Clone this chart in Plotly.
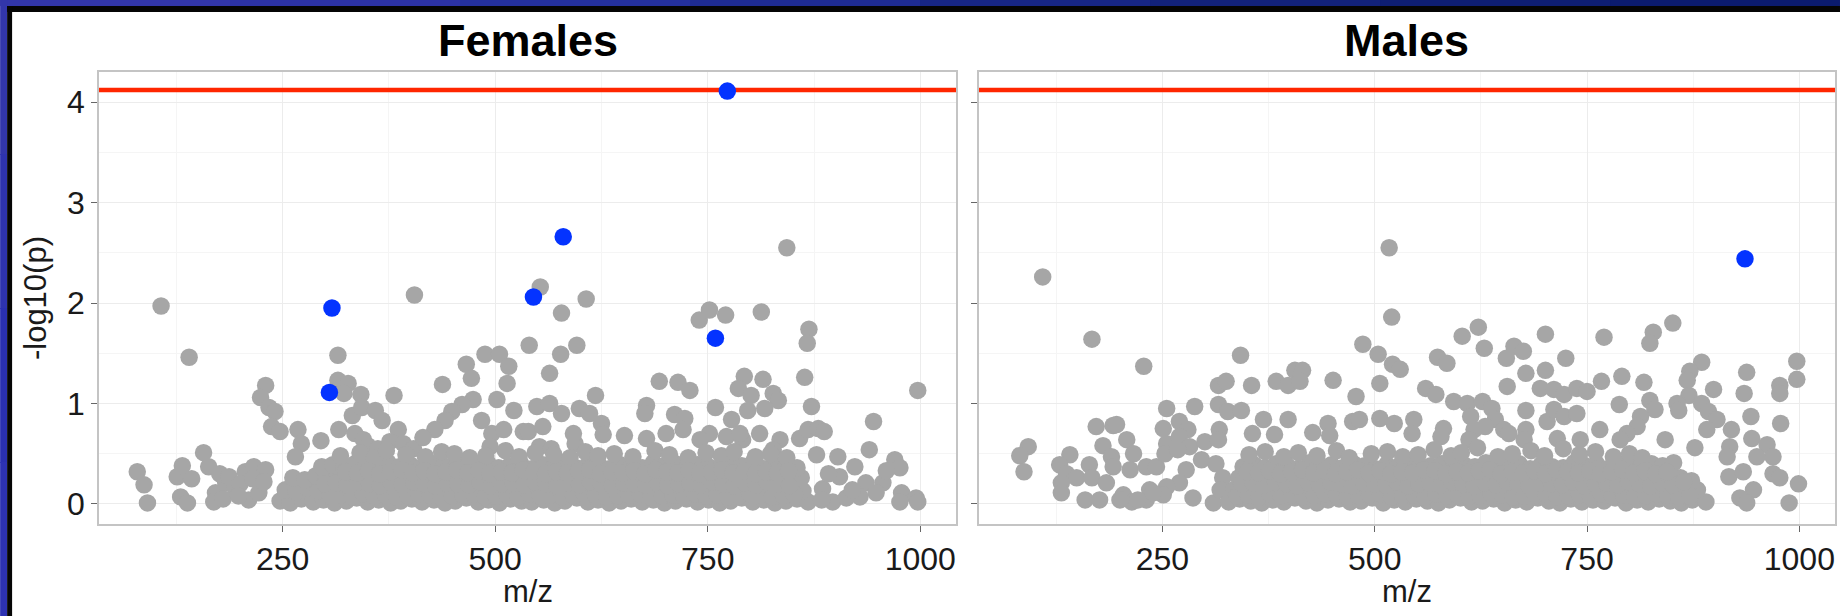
import plotly.graph_objects as go

# ---------------- data ----------------
threshold = 4.12
x_range = [34, 1042]
y_range = [-0.2, 4.3]
x_tick_vals = [250, 500, 750, 1000]
x_tick_text = ["250", "500", "750", "1000"]
x_minor_vals = [125, 375, 625, 875]
y_tick_vals = [0, 1, 2, 3, 4]
y_tick_text = ["0", "1", "2", "3", "4"]
y_minor_vals = [0.5, 1.5, 2.5, 3.5]
panel_titles = ["Females", "Males"]

# Females - scattered (non significant) features
females_sparse_mz = [79, 87, 91, 107, 126, 132, 143, 130, 138, 140,
                     157, 163, 171, 169, 183, 194, 206, 216, 230, 210,
                     222, 176, 187, 200, 215, 228, 180, 198, 230, 224,
                     234, 241, 237, 247, 268, 272, 295, 315, 315, 327,
                     322, 342, 381, 405, 438, 466, 472, 488, 505, 516,
                     514, 540, 502, 474, 461, 449, 441, 429, 484, 496,
                     510, 522, 533, 494, 316, 332, 343, 359, 367, 335,
                     345, 386, 265, 350, 362, 376, 392, 404, 415,
                     843, 553, 607, 578, 596, 577, 564, 740, 752, 771,
                     813, 869, 867, 864, 872, 693, 715, 729, 793, 815,
                     786, 801, 827, 833, 797, 817, 759, 778, 997, 945,
                     940, 618, 678, 676, 711, 723, 549, 564, 578, 599,
                     611, 625, 627, 539, 556, 552, 566, 594, 592, 652,
                     678, 701, 721, 858, 868, 880, 887, 878, 903, 923,
                     905, 936, 956, 970, 976, 978, 995, 997, 976, 948,
                     929, 897, 913, 835, 811, 827, 791, 752, 741, 772,
                     788, 885, 892, 960, 920]
females_sparse_logp = [0.32, 0.19, 0.01, 1.97, 0.27, 0.38, 0.25, 0.07, 0.01, 1.46,
                       0.51, 0.37, 0.11, 0.02, 0.21, 0.16, 0.32, 0.37, 0.34, 0.04,
                       0.11, 0.30, 0.27, 0.20, 0.25, 0.22, 0.05, 0.08, 1.18, 1.06,
                       0.96, 0.92, 0.77, 0.72, 0.74, 0.60, 0.63, 1.48, 1.23, 1.20,
                       1.10, 1.09, 1.08, 2.08, 1.19, 1.39, 1.25, 1.49, 1.49, 1.37,
                       1.20, 1.58, 1.04, 1.04, 0.99, 0.92, 0.83, 0.74, 0.83, 0.70,
                       0.74, 0.93, 0.72, 0.57, 0.74, 0.88, 0.96, 0.93, 0.83, 0.70,
                       0.64, 0.74, 0.47, 0.58, 0.55, 0.62, 0.60, 0.55, 0.66,
                       2.55, 2.16, 2.04, 1.90, 1.58, 1.49, 1.30, 1.83, 1.93, 1.88,
                       1.91, 1.74, 1.60, 1.26, 0.97, 1.22, 1.21, 1.13, 1.27, 1.24,
                       1.15, 1.08, 1.10, 1.03, 0.93, 0.95, 0.96, 0.84, 1.13, 0.82,
                       0.54, 1.08, 0.98, 0.90, 0.89, 0.85, 0.97, 1.00, 0.90, 0.95,
                       0.90, 0.80, 0.69, 0.72, 0.77, 0.57, 0.55, 0.60, 0.70, 0.68,
                       0.65, 0.70, 0.74, 0.65, 0.74, 0.75, 0.72, 0.49, 0.47, 0.37,
                       0.27, 0.21, 0.21, 0.44, 0.36, 0.11, 0.06, 0.02, 0.02, 0.11,
                       0.07, 0.02, 0.06, 0.64, 0.70, 0.54, 0.64, 0.70, 0.64, 0.67,
                       0.70, 0.15, 0.30, 0.33, 0.14]

# Females - dense low band
females_band_mz = [247, 259, 272, 286, 298, 311, 325, 337, 350, 363, 377, 389, 402, 414, 428, 441, 453,
                   466, 480, 492, 505, 518, 531, 543, 557, 570, 582, 596, 609, 621, 634, 648, 660, 673,
                   686, 699, 712, 725, 738, 751, 764, 777, 790, 803, 816, 829, 842, 855, 868, 884,
                   253, 266, 279, 292, 305, 318, 331, 344, 357, 370, 383, 396, 409, 421, 435, 447, 460,
                   473, 486, 499, 512, 525, 537, 550, 563, 576, 589, 602, 615, 628, 641, 654, 667, 680,
                   693, 706, 719, 732, 745, 758, 771, 784, 797, 810, 823, 836, 849, 862,
                   262, 276, 289, 301, 314, 327, 340, 353, 366, 379, 392, 405, 418, 431, 444, 457, 470,
                   483, 496, 509, 522, 535, 548, 561, 574, 587, 600, 613, 626, 639, 652, 665, 678, 691,
                   704, 717, 730, 743, 756, 769, 782, 795, 808, 821, 834, 847, 860,
                   296, 309, 322, 335, 348, 361, 374, 387, 400, 413, 426, 439, 452, 465, 478, 491, 504,
                   517, 530, 543, 556, 569, 582, 595, 608, 621, 634, 647, 660, 673, 686, 699, 712, 725,
                   738, 751, 764, 777, 790, 803, 816, 829, 842, 855,
                   318, 341, 358, 372, 395, 418, 437, 452, 470, 489, 512, 528, 547, 569, 588, 606, 621,
                   640, 662, 688, 705, 727, 748, 766, 781, 806, 824, 843]
females_band_logp = [0.03, 0.01, 0.05, 0.02, 0.04, 0.01, 0.03, 0.06, 0.02, 0.04,
                     0.01, 0.03, 0.05, 0.02, 0.04, 0.01, 0.03, 0.06, 0.02, 0.04,
                     0.01, 0.05, 0.03, 0.02, 0.04, 0.01, 0.03, 0.06, 0.02, 0.04,
                     0.01, 0.03, 0.05, 0.02, 0.04, 0.01, 0.03, 0.05, 0.02, 0.04,
                     0.01, 0.03, 0.06, 0.02, 0.04, 0.01, 0.03, 0.05, 0.02, 0.04,
                     0.14, 0.12, 0.16, 0.13, 0.15, 0.12, 0.17, 0.14, 0.13, 0.16,
                     0.12, 0.15, 0.14, 0.17, 0.13, 0.12, 0.16, 0.14, 0.15, 0.12,
                     0.13, 0.17, 0.14, 0.16, 0.12, 0.15, 0.13, 0.14, 0.17, 0.12,
                     0.16, 0.13, 0.15, 0.14, 0.12, 0.17, 0.13, 0.15, 0.16, 0.12,
                     0.14, 0.13, 0.17, 0.15, 0.12, 0.14, 0.16, 0.13,
                     0.26, 0.24, 0.28, 0.25, 0.27, 0.23, 0.29, 0.26, 0.24, 0.27,
                     0.25, 0.28, 0.24, 0.26, 0.29, 0.23, 0.27, 0.25, 0.28, 0.24,
                     0.26, 0.23, 0.29, 0.25, 0.27, 0.24, 0.28, 0.26, 0.23, 0.27,
                     0.25, 0.29, 0.24, 0.26, 0.28, 0.23, 0.27, 0.25, 0.24, 0.28,
                     0.26, 0.23, 0.29, 0.25, 0.27, 0.24, 0.26,
                     0.37, 0.39, 0.36, 0.40, 0.38, 0.35, 0.41, 0.37, 0.39, 0.36,
                     0.40, 0.38, 0.35, 0.39, 0.37, 0.41, 0.36, 0.38, 0.40, 0.35,
                     0.39, 0.37, 0.41, 0.36, 0.38, 0.40, 0.35, 0.39, 0.37, 0.36,
                     0.41, 0.38, 0.40, 0.35, 0.39, 0.37, 0.36, 0.40, 0.38, 0.41,
                     0.35, 0.39, 0.37, 0.36,
                     0.48, 0.51, 0.46, 0.53, 0.49, 0.47, 0.52, 0.50, 0.46, 0.48,
                     0.53, 0.47, 0.51, 0.49, 0.46, 0.52, 0.48, 0.50, 0.47, 0.53,
                     0.49, 0.46, 0.51, 0.48, 0.52, 0.47, 0.50, 0.46]

# Females - extra low-band features (filling the dense core)
females_core_mz = [306, 319, 332, 345, 358, 371, 384, 397, 410, 423, 436, 449, 462, 475, 488,
                   501, 514, 527, 540, 553, 566, 579, 592, 605, 618, 631, 644, 657, 670, 683,
                   696, 709, 722, 735, 748, 761, 774, 787, 800, 813, 826, 839, 852,
                   300, 313, 326, 339, 352, 365, 378, 391, 404, 417, 430, 443, 456, 469, 482,
                   495, 508, 521, 534, 547, 560, 573, 586, 599, 612, 625, 638, 651, 664, 677,
                   690, 703, 716, 729, 742, 755, 768, 781, 794, 807, 820, 833, 846,
                   324, 338, 351, 364, 377, 390, 403, 416, 429, 442, 455, 468, 481, 494, 507,
                   520, 533, 546, 559, 572, 585, 598, 611, 624, 637, 650, 663, 676, 689, 702,
                   715, 728, 741, 754, 767, 780, 793, 806, 819, 832, 845]
females_core_logp = [0.08, 0.09, 0.07, 0.10, 0.08, 0.09, 0.07, 0.08, 0.10, 0.09,
                     0.07, 0.08, 0.09, 0.10, 0.07, 0.08, 0.09, 0.07, 0.10, 0.08,
                     0.09, 0.07, 0.08, 0.10, 0.09, 0.07, 0.08, 0.09, 0.10, 0.07,
                     0.08, 0.09, 0.07, 0.10, 0.08, 0.09, 0.07, 0.08, 0.10, 0.09,
                     0.07, 0.08, 0.09,
                     0.20, 0.21, 0.19, 0.22, 0.20, 0.18, 0.21, 0.19, 0.22, 0.20,
                     0.18, 0.21, 0.20, 0.19, 0.22, 0.18, 0.20, 0.21, 0.19, 0.22,
                     0.20, 0.18, 0.21, 0.19, 0.22, 0.20, 0.18, 0.21, 0.20, 0.19,
                     0.22, 0.18, 0.20, 0.21, 0.19, 0.22, 0.20, 0.18, 0.21, 0.19,
                     0.22, 0.20, 0.18,
                     0.32, 0.31, 0.33, 0.30, 0.32, 0.34, 0.31, 0.33, 0.30, 0.32,
                     0.34, 0.31, 0.33, 0.30, 0.32, 0.31, 0.34, 0.33, 0.30, 0.32,
                     0.31, 0.33, 0.34, 0.30, 0.32, 0.31, 0.33, 0.30, 0.34, 0.32,
                     0.31, 0.33, 0.30, 0.32, 0.34, 0.31, 0.33, 0.30, 0.32, 0.31,
                     0.33]

# Females - significant features (blue)
females_hit_mz = [773, 580, 545, 308, 759, 305]
females_hit_logp = [4.11, 2.66, 2.06, 1.95, 1.65, 1.11]

# Males - scattered features
males_sparse_mz = [517, 109, 520, 167, 228, 342, 486, 504, 521, 530,
                   506, 478, 316, 325, 355, 384, 398, 406, 415, 412,
                   451, 255, 288, 316, 327, 343, 369, 398, 356, 382,
                   427, 445, 447, 474, 482, 506, 523, 172, 192, 196,
                   180, 190, 192, 92, 82, 87, 141, 129, 137, 149,
                   131, 131, 164, 167, 184, 159, 176, 208, 216, 212,
                   231, 243, 204, 214, 231, 235, 251, 255, 270, 280,
                   270, 282, 253, 268, 300, 317, 316, 296, 313, 321,
                   278, 270, 255, 251, 286, 310, 318, 200, 221, 239,
                   851, 828, 824, 770, 701, 622, 603, 629, 664, 675,
                   655, 725, 574, 585, 678, 701, 656, 560, 572, 593,
                   695, 711, 723, 738, 750, 767, 791, 817, 788, 885,
                   871, 868, 870, 856, 858, 997, 997, 977, 977, 938,
                   935, 899, 824, 830, 885, 893, 903, 891, 943, 978,
                   920, 918, 944, 962, 969, 950, 969, 977, 999, 988,
                   946, 930, 938, 917, 934, 915, 877, 842, 813, 809,
                   797, 789, 765, 678, 678, 676, 703, 711, 723, 738,
                   715, 742, 609, 627, 638, 642, 652, 658, 630, 613,
                   617, 611, 581, 578, 546, 544, 650, 656]
males_sparse_logp = [2.55, 2.26, 1.86, 1.64, 1.37, 1.48, 1.59, 1.49, 1.39, 1.34,
                     1.20, 1.07, 1.18, 1.22, 1.18, 1.22, 1.18, 1.33, 1.33, 1.22,
                     1.23, 0.95, 0.97, 0.99, 0.92, 0.93, 0.84, 0.84, 0.70, 0.69,
                     0.71, 0.80, 0.68, 0.82, 0.84, 0.85, 0.80, 0.77, 0.78, 0.79,
                     0.58, 0.47, 0.37, 0.57, 0.48, 0.32, 0.49, 0.39, 0.30, 0.26,
                     0.21, 0.11, 0.39, 0.26, 0.21, 0.04, 0.04, 0.64, 0.50, 0.34,
                     0.37, 0.37, 0.09, 0.02, 0.04, 0.14, 0.75, 0.60, 0.82, 0.74,
                     0.67, 0.57, 0.50, 0.54, 0.62, 0.74, 0.64, 0.44, 0.40, 0.26,
                     0.34, 0.21, 0.17, 0.09, 0.06, 0.01, 0.14, 0.04, 0.04, 0.11,
                     1.80, 1.71, 1.60, 1.66, 1.69, 1.76, 1.67, 1.55, 1.57, 1.52,
                     1.45, 1.45, 1.46, 1.40, 1.30, 1.33, 1.17, 1.15, 1.09, 1.02,
                     1.15, 1.14, 1.09, 1.15, 1.12, 1.22, 1.27, 1.21, 0.99, 1.41,
                     1.32, 1.23, 1.08, 1.00, 0.93, 1.42, 1.24, 1.18, 1.10, 1.31,
                     1.10, 1.14, 1.03, 0.94, 1.00, 0.92, 0.84, 0.74, 0.87, 0.80,
                     0.74, 0.57, 0.65, 0.59, 0.47, 0.47, 0.30, 0.26, 0.20, 0.01,
                     0.14, 0.06, 0.01, 0.27, 0.32, 0.47, 0.56, 0.64, 0.87, 0.77,
                     0.70, 0.64, 0.74, 0.93, 0.74, 0.64, 0.82, 0.94, 0.87, 0.90,
                     0.65, 0.64, 1.00, 1.02, 0.95, 0.84, 0.74, 0.70, 0.77, 0.87,
                     0.74, 0.64, 0.75, 0.67, 0.84, 0.70, 0.44, 0.44]

# Males - dense low band
males_band_mz = [328, 341, 354, 367, 380, 393, 406, 419, 432, 445, 458, 471, 484, 497, 510, 523, 536,
                 549, 562, 575, 588, 601, 614, 627, 640, 653, 666, 679, 692, 705, 718, 731, 744, 757,
                 770, 783, 796, 809, 822, 835, 848, 861, 874, 890,
                 334, 347, 360, 373, 386, 399, 412, 425, 438, 451, 464, 477, 490, 503, 516, 529, 542,
                 555, 568, 581, 594, 607, 620, 633, 646, 659, 672, 685, 698, 711, 724, 737, 750, 763,
                 776, 789, 802, 815, 828, 841, 854, 867, 880,
                 340, 353, 366, 379, 392, 405, 418, 431, 444, 457, 470, 483, 496, 509, 522, 535, 548,
                 561, 574, 587, 600, 613, 626, 639, 652, 665, 678, 691, 704, 717, 730, 743, 756, 769,
                 782, 795, 808, 821, 834, 847, 860, 873,
                 345, 358, 371, 384, 397, 410, 423, 436, 449, 462, 475, 488, 501, 514, 527, 540, 553,
                 566, 579, 592, 605, 618, 631, 644, 657, 670, 683, 696, 709, 722, 735, 748, 761, 774,
                 787, 800, 813, 826, 839, 852,
                 352, 371, 393, 410, 432, 455, 470, 496, 515, 533, 551, 570, 590, 602, 621, 645, 662,
                 684, 700, 722, 741, 760, 781, 800, 815]
males_band_logp = [0.02, 0.05, 0.03, 0.01, 0.04, 0.02, 0.06, 0.03, 0.01, 0.04,
                   0.05, 0.02, 0.03, 0.06, 0.01, 0.04, 0.02, 0.05, 0.03, 0.01,
                   0.04, 0.06, 0.02, 0.03, 0.05, 0.01, 0.04, 0.02, 0.06, 0.03,
                   0.01, 0.05, 0.02, 0.04, 0.03, 0.06, 0.01, 0.04, 0.02, 0.05,
                   0.03, 0.01, 0.04, 0.02,
                   0.14, 0.12, 0.16, 0.13, 0.15, 0.17, 0.12, 0.14, 0.16, 0.13,
                   0.15, 0.12, 0.17, 0.14, 0.13, 0.16, 0.12, 0.15, 0.14, 0.17,
                   0.13, 0.12, 0.16, 0.15, 0.14, 0.12, 0.17, 0.13, 0.15, 0.16,
                   0.12, 0.14, 0.13, 0.17, 0.15, 0.12, 0.16, 0.14, 0.13, 0.15,
                   0.17, 0.12, 0.14,
                   0.26, 0.24, 0.28, 0.25, 0.27, 0.23, 0.29, 0.26, 0.24, 0.27,
                   0.25, 0.28, 0.24, 0.26, 0.29, 0.23, 0.27, 0.25, 0.28, 0.24,
                   0.26, 0.23, 0.29, 0.25, 0.27, 0.24, 0.28, 0.26, 0.23, 0.27,
                   0.25, 0.29, 0.24, 0.26, 0.28, 0.23, 0.27, 0.25, 0.24, 0.28,
                   0.26, 0.23,
                   0.37, 0.39, 0.36, 0.40, 0.38, 0.35, 0.41, 0.37, 0.39, 0.36,
                   0.40, 0.38, 0.35, 0.39, 0.37, 0.41, 0.36, 0.38, 0.40, 0.35,
                   0.39, 0.37, 0.41, 0.36, 0.38, 0.40, 0.35, 0.39, 0.37, 0.36,
                   0.41, 0.38, 0.40, 0.35, 0.39, 0.37, 0.36, 0.40, 0.38, 0.41,
                   0.49, 0.52, 0.47, 0.51, 0.48, 0.53, 0.46, 0.50, 0.52, 0.47,
                   0.49, 0.54, 0.48, 0.51, 0.56, 0.47, 0.50, 0.53, 0.48, 0.55,
                   0.49, 0.52, 0.47, 0.50, 0.46]

# Males - extra low-band features (filling the dense core)
males_core_mz = [338, 351, 364, 377, 390, 403, 416, 429, 442, 455, 468, 481, 494, 507, 520,
                 533, 546, 559, 572, 585, 598, 611, 624, 637, 650, 663, 676, 689, 702, 715,
                 728, 741, 754, 767, 780, 793, 806, 819, 832, 845, 858, 871,
                 344, 357, 370, 383, 396, 409, 422, 435, 448, 461, 474, 487, 500, 513, 526,
                 539, 552, 565, 578, 591, 604, 617, 630, 643, 656, 669, 682, 695, 708, 721,
                 734, 747, 760, 773, 786, 799, 812, 825, 838, 851, 864,
                 350, 363, 376, 389, 402, 415, 428, 441, 454, 467, 480, 493, 506, 519, 532,
                 545, 558, 571, 584, 597, 610, 623, 636, 649, 662, 675, 688, 701, 714, 727,
                 740, 753, 766, 779, 792, 805, 818, 831, 844]
males_core_logp = [0.08, 0.09, 0.07, 0.10, 0.08, 0.09, 0.07, 0.08, 0.10, 0.09,
                   0.07, 0.08, 0.09, 0.10, 0.07, 0.08, 0.09, 0.07, 0.10, 0.08,
                   0.09, 0.07, 0.08, 0.10, 0.09, 0.07, 0.08, 0.09, 0.10, 0.07,
                   0.08, 0.09, 0.07, 0.10, 0.08, 0.09, 0.07, 0.08, 0.10, 0.09,
                   0.07, 0.08,
                   0.20, 0.21, 0.19, 0.22, 0.20, 0.18, 0.21, 0.19, 0.22, 0.20,
                   0.18, 0.21, 0.20, 0.19, 0.22, 0.18, 0.20, 0.21, 0.19, 0.22,
                   0.20, 0.18, 0.21, 0.19, 0.22, 0.20, 0.18, 0.21, 0.20, 0.19,
                   0.22, 0.18, 0.20, 0.21, 0.19, 0.22, 0.20, 0.18, 0.21, 0.19,
                   0.22,
                   0.32, 0.31, 0.33, 0.30, 0.32, 0.34, 0.31, 0.33, 0.30, 0.32,
                   0.34, 0.31, 0.33, 0.30, 0.32, 0.31, 0.34, 0.33, 0.30, 0.32,
                   0.31, 0.33, 0.34, 0.30, 0.32, 0.31, 0.33, 0.30, 0.34, 0.32,
                   0.31, 0.33, 0.30, 0.32, 0.34, 0.31, 0.33, 0.30, 0.32]

# Males - significant features (blue)
males_hit_mz = [936]
males_hit_logp = [2.44]

# ---------------- styling ----------------
W, H = 1842, 616
ML, MR, MT, MB = 99, 5, 72, 92
PW, PH = W - ML - MR, H - MT - MB


def fx(p):
    return (p - ML) / PW


def fy(p):
    return (H - MB - p) / PH


GRAY = "#a6a6a6"
BLUE = "#0433ff"
RED = "#ff2600"
FONT = "Liberation Sans, Arial, Helvetica, sans-serif"
MSIZE = 17.5

fig = go.Figure()
panels = [
    ("x", "y", females_sparse_mz + females_band_mz + females_core_mz,
     females_sparse_logp + females_band_logp + females_core_logp,
     females_hit_mz, females_hit_logp),
    ("x2", "y2", males_sparse_mz + males_band_mz + males_core_mz,
     males_sparse_logp + males_band_logp + males_core_logp,
     males_hit_mz, males_hit_logp),
]
for xa, ya, gx, gy, bx, by in panels:
    # significance threshold line (drawn first so points sit on top)
    fig.add_trace(go.Scatter(x=x_range, y=[threshold, threshold], mode="lines",
                             xaxis=xa, yaxis=ya, line=dict(color=RED, width=4.5),
                             hoverinfo="skip", showlegend=False, cliponaxis=False))
    fig.add_trace(go.Scatter(x=gx, y=gy, mode="markers", xaxis=xa, yaxis=ya,
                             marker=dict(color=GRAY, size=MSIZE, line=dict(width=0)),
                             hoverinfo="skip", showlegend=False))
    fig.add_trace(go.Scatter(x=bx, y=by, mode="markers", xaxis=xa, yaxis=ya,
                             marker=dict(color=BLUE, size=MSIZE, line=dict(width=0)),
                             hoverinfo="skip", showlegend=False))

axis_common = dict(showline=True, mirror=True, linecolor="#c4c4c4", linewidth=1.5,
                   showgrid=True, gridcolor="#ececec", gridwidth=1.2, zeroline=False,
                   ticks="outside", ticklen=6, tickwidth=1.2, tickcolor="#666666",
                   tickfont=dict(family=FONT, size=32, color="#1a1a1a"))

xcommon = dict(axis_common, range=x_range, tickmode="array", tickvals=x_tick_vals,
               ticktext=x_tick_text,
               minor=dict(tickmode="array", tickvals=x_minor_vals, showgrid=True,
                          gridcolor="#f5f5f5", gridwidth=1, ticks=""))
ycommon = dict(axis_common, range=y_range, tickmode="array", tickvals=y_tick_vals,
               ticktext=y_tick_text,
               minor=dict(tickmode="array", tickvals=y_minor_vals, showgrid=True,
                          gridcolor="#f5f5f5", gridwidth=1, ticks=""))

dom1 = [0, (957 - ML) / PW]
dom2 = [(980 - ML) / PW, 1]

fig.update_layout(
    width=W, height=H,
    margin=dict(l=ML, r=MR, t=MT, b=MB, pad=0),
    paper_bgcolor="white", plot_bgcolor="white",
    showlegend=False,
    xaxis=dict(xcommon, domain=dom1, anchor="y"),
    xaxis2=dict(xcommon, domain=dom2, anchor="y2"),
    yaxis=dict(ycommon, anchor="x"),
    yaxis2=dict(ycommon, anchor="x2", matches="y", showticklabels=False),
)

shapes = []
# outer blue/black frame (top and left edges)
top_blues = ["#3236aa", "#2c32a6", "#24309e", "#1e2b92", "#172686", "#12227c", "#0e1e74", "#0b1b6e"]
seg = W / len(top_blues)
for i, c in enumerate(top_blues):
    shapes.append(dict(type="rect", xref="paper", yref="paper", layer="above",
                       x0=fx(i * seg), x1=fx(min((i + 1) * seg + 1, W)), y0=fy(0), y1=fy(6),
                       fillcolor=c, line=dict(width=0)))
left_blues = ["#3236aa", "#2e33ae", "#2a30b0", "#2d32b2"]
segh = H / len(left_blues)
for i, c in enumerate(left_blues):
    shapes.append(dict(type="rect", xref="paper", yref="paper", layer="above",
                       x0=fx(0), x1=fx(7), y0=fy(i * segh), y1=fy(min((i + 1) * segh + 1, H)),
                       fillcolor=c, line=dict(width=0)))
shapes.append(dict(type="rect", xref="paper", yref="paper", layer="above",
                   x0=fx(7), x1=fx(W), y0=fy(6), y1=fy(12),
                   fillcolor="#050505", line=dict(width=0)))
shapes.append(dict(type="rect", xref="paper", yref="paper", layer="above",
                   x0=fx(7), x1=fx(12), y0=fy(6), y1=fy(H),
                   fillcolor="#050505", line=dict(width=0)))
fig.update_layout(shapes=shapes)

annotations = []
for title, dom in zip(panel_titles, [dom1, dom2]):
    cx = (dom[0] + dom[1]) / 2
    annotations.append(dict(text=f"<b>{title}</b>", xref="paper", yref="paper",
                            x=cx, y=fy(41), xanchor="center", yanchor="middle",
                            showarrow=False, font=dict(family=FONT, size=45, color="#000000")))
    annotations.append(dict(text="m/z", xref="paper", yref="paper",
                            x=cx, y=fy(591), xanchor="center", yanchor="middle",
                            showarrow=False, font=dict(family=FONT, size=31, color="#1a1a1a")))
annotations.append(dict(text="-log10(p)", xref="paper", yref="paper",
                        x=fx(35), y=fy(298), xanchor="center", yanchor="middle", textangle=-90,
                        showarrow=False, font=dict(family=FONT, size=31, color="#1a1a1a")))
fig.update_layout(annotations=annotations)

fig.write_html("out.html", config={"displayModeBar": False},
               post_script="document.body.style.margin='0px'; document.body.style.overflow='hidden';")
